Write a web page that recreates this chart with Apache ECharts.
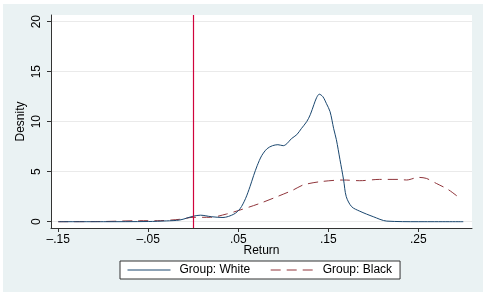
<!DOCTYPE html>
<html>
<head>
<meta charset="utf-8">
<script src="https://cdn.jsdelivr.net/npm/echarts@6/dist/echarts.min.js"></script>
<style>
  html, body { margin: 0; padding: 0; background: #fff; }
  #main { position: absolute; left: 3px; top: 4px; width: 480px; height: 288px; }
</style>
</head>
<body>
<div id="main"></div>
<script>
// density estimates
var whiteX = [-0.15, -0.10, -0.05, -0.03, -0.015, 0.0, 0.008, 0.02, 0.033, 0.045, 0.052, 0.058, 0.063, 0.067, 0.071, 0.076, 0.082, 0.088, 0.094, 0.10, 0.104, 0.109, 0.115, 0.12, 0.126, 0.13, 0.134, 0.137, 0.14, 0.144, 0.148, 0.152, 0.156, 0.159, 0.163, 0.167, 0.17, 0.176, 0.185, 0.20, 0.215, 0.25, 0.30];
var whiteY = [0.0, 0.0, 0.02, 0.08, 0.17, 0.55, 0.65, 0.5, 0.42, 0.75, 1.3, 2.3, 3.5, 4.6, 5.6, 6.6, 7.3, 7.6, 7.7, 7.6, 7.8, 8.3, 8.7, 9.3, 10.0, 10.7, 11.7, 12.4, 12.75, 12.5, 11.8, 11.0, 9.3, 8.2, 6.2, 4.2, 2.5, 1.5, 1.05, 0.5, 0.06, 0.0, 0.0];
var blackX = [-0.15, -0.10, -0.06, -0.04, -0.015, 0.0, 0.019, 0.037, 0.052, 0.074, 0.093, 0.111, 0.122, 0.141, 0.167, 0.185, 0.207, 0.228, 0.237, 0.25, 0.259, 0.27, 0.283, 0.294];
var blackY = [0.0, 0.02, 0.1, 0.1, 0.24, 0.44, 0.44, 0.77, 1.17, 1.83, 2.5, 3.17, 3.67, 4.0, 4.17, 4.1, 4.23, 4.23, 4.17, 4.43, 4.33, 3.83, 3.23, 2.5];
var xTicks = [-0.15, -0.05, 0.05, 0.15, 0.25];
var yTicks = [0, 5, 10, 15, 20];
var refLineX = 0;

function pairs(xs, ys) {
  return xs.map(function (x, i) { return [x, ys[i]]; });
}

var chart = echarts.init(document.getElementById('main'));
var font = 'Liberation Sans, Arial, sans-serif';
var redLine = { color: '#d0043c', width: 1.2, type: 'solid', opacity: 1 };

var option = {
  backgroundColor: '#eaf2f3',
  animation: false,
  grid: { left: 48, right: 11, top: 11, bottom: 64, backgroundColor: '#fff', show: true, borderWidth: 0 },
  xAxis: {
    type: 'value',
    min: -0.1581,
    max: 0.3097,
    name: 'Return',
    nameLocation: 'middle',
    nameGap: 17,
    nameMoveOverlap: false,
    nameTextStyle: { color: '#000', fontSize: 12, fontFamily: font },
    axisLine: { show: true, onZero: false, lineStyle: { color: '#333', width: 1 } },
    axisTick: { show: true, length: 4, lineStyle: { color: '#333' }, customValues: xTicks },
    axisLabel: {
      color: '#000', fontSize: 12, fontFamily: font, margin: 6,
      customValues: xTicks,
      formatter: function (v) {
        var s = Math.abs(v).toFixed(2).replace(/^0/, '');
        return (v < 0 ? '\u2013' : '') + s;
      }
    },
    splitLine: { show: false }
  },
  yAxis: {
    type: 'value',
    min: -0.63,
    max: 20.67,
    name: 'Desnity',
    nameLocation: 'middle',
    nameGap: 24,
    nameMoveOverlap: false,
    nameTextStyle: { color: '#000', fontSize: 12, fontFamily: font },
    axisLine: { show: true, onZero: false, lineStyle: { color: '#333', width: 1 } },
    axisTick: { show: true, length: 4, lineStyle: { color: '#333' }, customValues: yTicks },
    axisLabel: {
      color: '#000', fontSize: 12, fontFamily: font, margin: 8, rotate: 90,
      customValues: yTicks
    },
    splitLine: { show: true, lineStyle: { color: '#eaeaea', width: 1 } }
  },
  legend: {
    left: 117,
    top: 257,
    padding: [3, 8, 3, 7],
    itemGap: 20,
    itemWidth: 43,
    itemHeight: 12,
    borderColor: '#333',
    borderWidth: 1,
    backgroundColor: '#fff',
    borderRadius: 0,
    itemStyle: { opacity: 0, borderWidth: 0 },
    lineStyle: { width: 1 },
    textStyle: { color: '#000', fontSize: 12, fontFamily: font, padding: [0, 0, 0, 4] },
    data: ['Group: White', 'Group: Black']
  },
  series: [
    {
      name: 'Group: White',
      type: 'line',
      smooth: 0.3,
      symbol: 'none',
      data: pairs(whiteX, whiteY),
      lineStyle: { color: '#1a476f', width: 1 },
      itemStyle: { color: '#1a476f' },
      z: 3
    },
    {
      name: 'Group: Black',
      type: 'line',
      smooth: 0.3,
      symbol: 'none',
      data: pairs(blackX, blackY),
      lineStyle: { color: '#90353b', width: 1, type: [10, 6] },
      itemStyle: { color: '#90353b' },
      markLine: {
        silent: true,
        symbol: ['none', 'none'],
        label: { show: false },
        emphasis: { disabled: true },
        lineStyle: redLine,
        itemStyle: { color: '#d0043c' },
        data: [{ xAxis: refLineX, lineStyle: redLine }]
      },
      z: 2
    }
  ]
};

chart.setOption(option);
</script>
</body>
</html>
